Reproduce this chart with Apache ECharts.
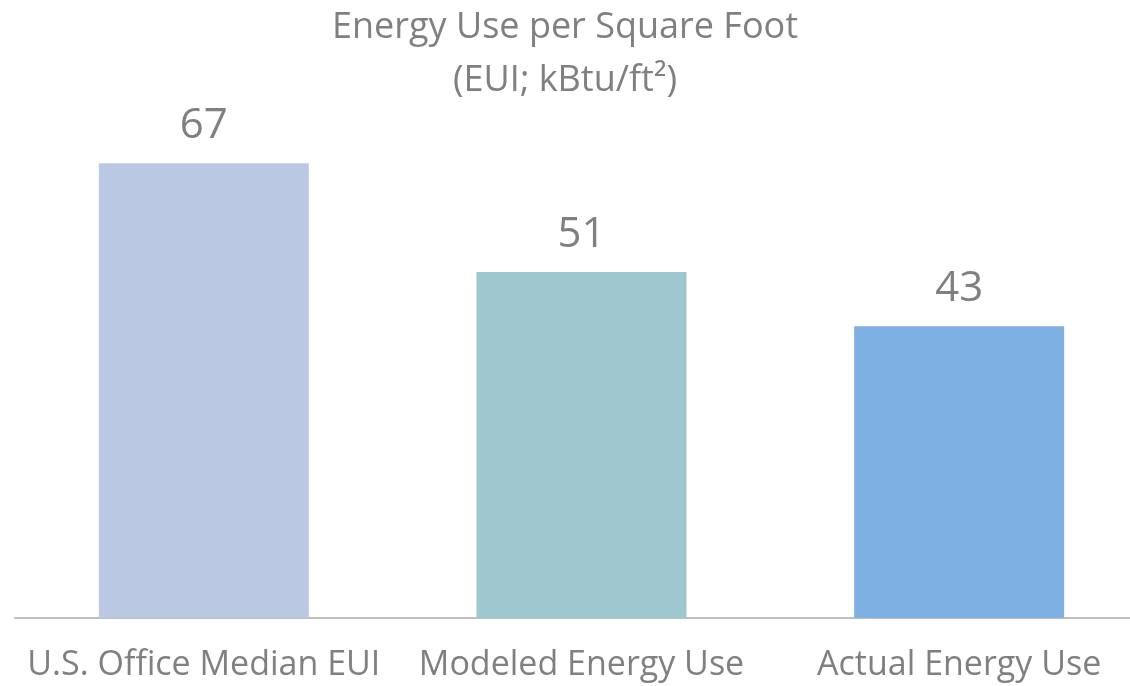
<!DOCTYPE html>
<html>
<head>
<meta charset="utf-8">
<script src="https://cdn.jsdelivr.net/npm/echarts@6/dist/echarts.min.js"></script>
<style>html,body{margin:0;padding:0;background:#fff;}#c{width:1130px;height:686px;}</style>
</head>
<body>
<div id="c"></div>
<script>
const titleLines = ['Energy Use per Square Foot', '(EUI; kBtu/ft²)'];
const categories = ['U.S. Office Median EUI', 'Modeled Energy Use', 'Actual Energy Use'];
const values = [67, 51, 43];
const barColors = ['#BBC8E3', '#9FC7CF', '#7EB0E4'];

const chart = echarts.init(document.getElementById('c'), null, {renderer: 'canvas'});
const font = 'Open Sans, sans-serif';
chart.setOption({
  animation: false,
  title: {
    text: titleLines.join('\n'),
    left: 'center',
    top: -4,
    textStyle: {fontFamily: font, fontSize: 36, fontWeight: 'normal', color: '#808080', lineHeight: 53, align: 'center'}
  },
  grid: {left: 15, right: -18, top: 143, bottom: 68, containLabel: false, outerBoundsMode: 'none'},
  xAxis: {
    type: 'category',
    data: categories,
    axisLine: {lineStyle: {color: '#BFBFBF', width: 2}},
    axisTick: {show: false},
    axisLabel: {fontFamily: font, fontSize: 34, color: '#808080', margin: 30, interval: 0}
  },
  yAxis: {
    type: 'value', min: 0, max: 70,
    show: false, splitLine: {show: false}
  },
  series: [{
    type: 'bar',
    barWidth: 210,
    data: values.map((v, i) => ({value: v, itemStyle: {color: barColors[i]}})),
    label: {show: true, position: 'top', distance: 16, fontFamily: font, fontSize: 42, color: '#808080'}
  }]
});
</script>
</body>
</html>
